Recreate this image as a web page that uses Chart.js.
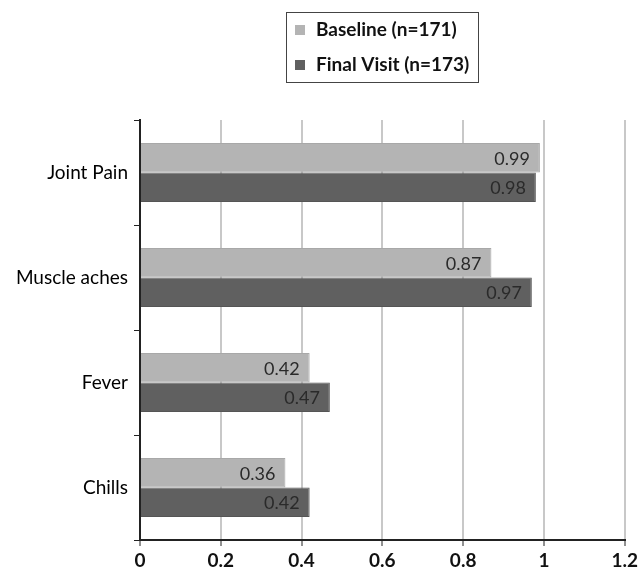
<!DOCTYPE html>
<html>
<head>
<meta charset="utf-8">
<script src="https://cdn.jsdelivr.net/npm/chart.js@4/dist/chart.umd.min.js"></script>
<style>
  html, body { margin: 0; padding: 0; background: #fff; }
  #wrap { width: 641px; height: 575px; }
</style>
</head>
<body>
<div id="wrap"><canvas id="chart" width="641" height="575"></canvas></div>
<script>
// categories and values
var categories = ['Joint Pain', 'Muscle aches', 'Fever', 'Chills'];
var baseline = [0.99, 0.87, 0.42, 0.36];
var finalVisit = [0.98, 0.97, 0.47, 0.42];
var seriesNames = ['Baseline (n=171)', 'Final Visit (n=173)'];
var xTicks = [0, 0.2, 0.4, 0.6, 0.8, 1, 1.2];

var FONT = 'Lato, "Open Sans", sans-serif';

// boxed legend at the top, like the original
var boxLegend = {
  id: 'boxLegend',
  afterDraw: function(chart) {
    var ctx = chart.ctx;
    var x0 = 286, y0 = 12, w = 192, h = 70;
    ctx.save();
    ctx.strokeStyle = '#444';
    ctx.lineWidth = 1;
    ctx.strokeRect(x0 + 0.5, y0 + 0.5, w, h);
    ctx.font = 'bold 19px ' + FONT;
    ctx.textBaseline = 'middle';
    chart.data.datasets.forEach(function(ds, i) {
      var cy = y0 + 18 + i * 35;
      ctx.fillStyle = ds.backgroundColor;
      ctx.fillRect(x0 + 9, cy - 5, 10, 10);
      ctx.fillStyle = '#111';
      ctx.fillText(ds.label, x0 + 30, cy);
    });
    ctx.restore();
  }
};

// value labels inside the end of each bar
var endLabels = {
  id: 'endLabels',
  afterDatasetsDraw: function(chart) {
    var ctx = chart.ctx;
    ctx.save();
    ctx.font = '18px ' + FONT;
    ctx.fillStyle = '#2a2a2a';
    ctx.textAlign = 'right';
    ctx.textBaseline = 'middle';
    chart.data.datasets.forEach(function(ds, i) {
      chart.getDatasetMeta(i).data.forEach(function(bar, j) {
        ctx.fillText(ds.data[j].toFixed(2), bar.x - 10, bar.y + 1);
      });
    });
    ctx.restore();
  }
};

new Chart(document.getElementById('chart').getContext('2d'), {
  type: 'bar',
  data: {
    labels: categories,
    datasets: [{
      label: seriesNames[0],
      data: baseline,
      backgroundColor: '#b4b4b4',
      borderColor: '#a8a8a8',
      borderWidth: 1,
      categoryPercentage: 0.56,
      barPercentage: 1.0
    }, {
      label: seriesNames[1],
      data: finalVisit,
      backgroundColor: '#606060',
      borderColor: '#555555',
      borderWidth: 1,
      categoryPercentage: 0.56,
      barPercentage: 1.0
    }]
  },
  options: {
    indexAxis: 'y',
    responsive: false,
    animation: false,
    layout: { padding: { top: 120, right: 14, bottom: 4, left: 0 } },
    plugins: {
      legend: { display: false },
      tooltip: { enabled: false }
    },
    scales: {
      x: {
        min: 0,
        max: 1.2,
        afterBuildTicks: function(scale) {
          scale.ticks = xTicks.map(function(v) { return { value: v }; });
        },
        afterFit: function(scale) { scale.height = 31; },
        grid: {
          color: '#c8c8c8',
          lineWidth: 2,
          tickColor: '#222',
          tickLength: 6,
          tickWidth: 1
        },
        border: { color: '#222', width: 2 },
        ticks: {
          color: '#111',
          font: { family: FONT, size: 19, weight: 'bold' },
          padding: 3,
          maxRotation: 0,
          callback: function(v) { return String(Math.round(v * 10) / 10); }
        }
      },
      y: {
        afterFit: function(scale) { scale.width = 140; },
        grid: {
          offset: true,
          drawOnChartArea: false,
          tickColor: '#222',
          tickLength: 6
        },
        border: { color: '#222', width: 2 },
        ticks: {
          color: '#000',
          font: { family: FONT, size: 19 },
          padding: 6
        }
      }
    }
  },
  plugins: [boxLegend, endLabels]
});
</script>
</body>
</html>
